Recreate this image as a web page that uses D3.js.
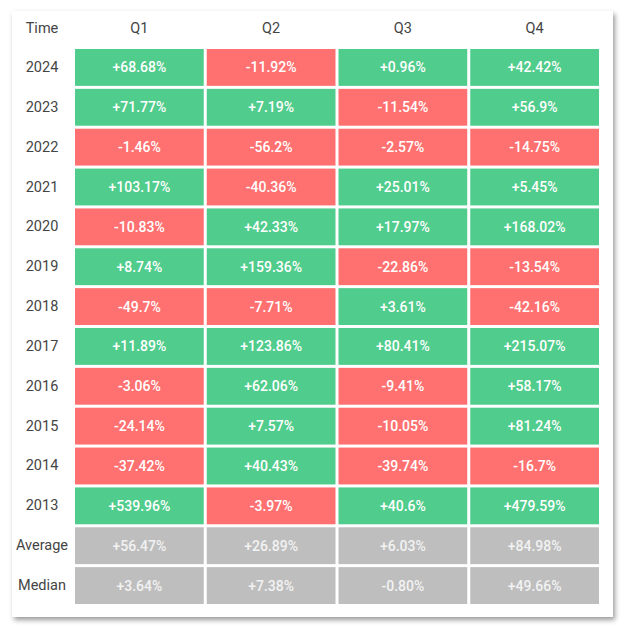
<!DOCTYPE html>
<html><head><meta charset="utf-8">
<script src="https://cdn.jsdelivr.net/npm/d3@7"></script>
<style>
html,body{margin:0;padding:0;background:#fff;}
#card{position:absolute;left:12px;top:11px;width:601px;height:606px;background:#fff;box-shadow:2px 3px 5px rgba(0,0,0,0.4);}
svg{position:absolute;left:0;top:0;}
</style></head>
<body><div id="card"></div><svg id="chart" width="626" height="629"></svg>
<script>
const quarters = ["Q1","Q2","Q3","Q4"];
const years = ["2024","2023","2022","2021","2020","2019","2018","2017","2016","2015","2014","2013"];
const q1 = [68.68, 71.77, -1.46, 103.17, -10.83, 8.74, -49.7, 11.89, -3.06, -24.14, -37.42, 539.96];
const q2 = [-11.92, 7.19, -56.2, -40.36, 42.33, 159.36, -7.71, 123.86, 62.06, 7.57, 40.43, -3.97];
const q3 = [0.96, -11.54, -2.57, 25.01, 17.97, -22.86, 3.61, 80.41, -9.41, -10.05, -39.74, 40.6];
const q4 = [42.42, 56.9, -14.75, 5.45, 168.02, -13.54, -42.16, 215.07, 58.17, 81.24, -16.7, 479.59];
const summaryLabels = ["Average","Median"];
const average = [56.47, 26.89, 6.03, 84.98];
const median = [3.64, 7.38, -0.80, 49.66];

const series = [q1,q2,q3,q4];
const rows = years.concat(summaryLabels);
const cells = [];
years.forEach((y,i)=>quarters.forEach((q,j)=>cells.push({row:y,col:q,v:series[j][i],summary:false})));
[average,median].forEach((arr,i)=>quarters.forEach((q,j)=>cells.push({row:summaryLabels[i],col:q,v:arr[j],summary:true})));

const svg = d3.select("#chart");
const x = d3.scaleBand().domain(quarters).range([75,599]).paddingInner(0.0228).paddingOuter(0);
const y = d3.scaleBand().domain(rows).range([49,604]).paddingInner(0.075).paddingOuter(0);

const font = "Roboto, 'DejaVu Sans', sans-serif";
const fmt = d=>{
  const s = d.summary ? Math.abs(d.v).toFixed(2) : String(Math.abs(d.v));
  return (d.v>=0?"+":"-")+s+"%";
};
const color = d=> d.summary ? "#bebebe" : (d.v>=0 ? "#50cc8c" : "#ff7171");

svg.selectAll("rect.cell").data(cells).join("rect").attr("class","cell")
  .attr("x",d=>x(d.col)).attr("y",d=>y(d.row))
  .attr("width",x.bandwidth()).attr("height",y.bandwidth())
  .attr("fill",color);

svg.selectAll("text.val").data(cells).join("text").attr("class","val")
  .attr("x",d=>x(d.col)+x.bandwidth()/2).attr("y",d=>y(d.row)+y.bandwidth()/2)
  .attr("text-anchor","middle").attr("dominant-baseline","central")
  .attr("font-family",font).attr("font-size",14).attr("font-weight",500)
  .attr("fill",d=>d.summary?"#f2f2f2":"#ffffff")
  .text(fmt);

svg.selectAll("text.rowlab").data(rows).join("text").attr("class","rowlab")
  .attr("x",42).attr("y",d=>y(d)+y.bandwidth()/2)
  .attr("text-anchor","middle").attr("dominant-baseline","central")
  .attr("font-family",font).attr("font-size",14.5).attr("fill","#444")
  .text(d=>d);

const headers = ["Time"].concat(quarters);
svg.selectAll("text.head").data(headers).join("text").attr("class","head")
  .attr("x",d=> d==="Time" ? 42 : x(d)+x.bandwidth()/2).attr("y",28)
  .attr("text-anchor","middle").attr("dominant-baseline","central")
  .attr("font-family",font).attr("font-size",14.5).attr("fill","#444")
  .text(d=>d);
</script></body></html>
